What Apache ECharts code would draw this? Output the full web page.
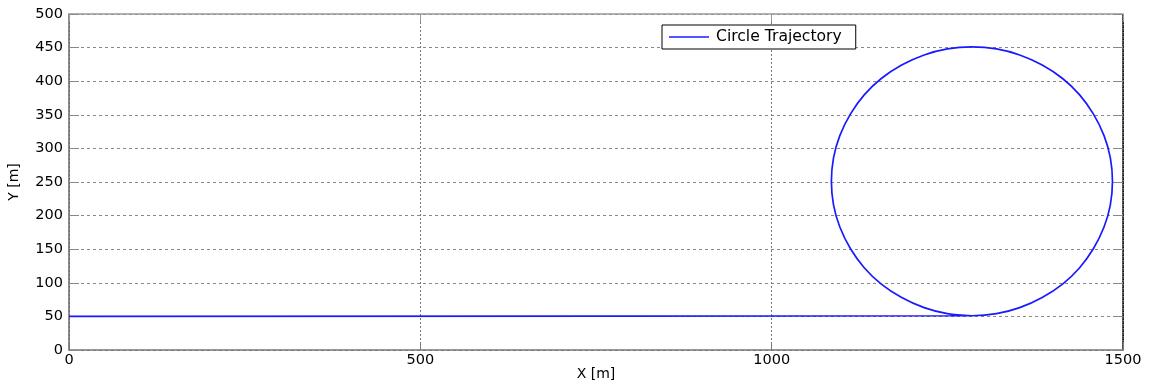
<!DOCTYPE html>
<html>
<head>
<meta charset="utf-8">
<script src="https://cdn.jsdelivr.net/npm/echarts@6/dist/echarts.min.js"></script>
<style>
  html, body { margin: 0; padding: 0; background: #fff; }
  #chart { width: 1150px; height: 385px; }
</style>
</head>
<body>
<div id="chart"></div>
<script>
// Straight approach leg at Y = 50 m
const approachX = [0, 1285];
const approachY = [50, 51];

// Loop around the circle, sampled every 10 degrees
const circleX = [1285, 1320, 1353, 1385, 1414, 1438, 1458, 1473, 1482, 1485,
                 1482, 1473, 1458, 1438, 1414, 1385, 1353, 1320, 1285, 1250,
                 1217, 1185, 1156, 1132, 1112, 1097, 1088, 1085, 1088, 1097,
                 1112, 1132, 1156, 1185, 1217, 1250, 1285];
const circleY = [51, 54, 63, 78, 98, 122, 151, 183, 216, 251,
                 286, 319, 351, 380, 404, 424, 439, 448, 451, 448,
                 439, 424, 404, 380, 351, 319, 286, 251, 216, 183,
                 151, 122, 98, 78, 63, 54, 51];

const xTicks = [0, 500, 1000, 1500];
const yTicks = [0, 50, 100, 150, 200, 250, 300, 350, 400, 450, 500];

const seriesName = 'Circle Trajectory';
const font = 'DejaVu Sans, sans-serif';

const trajectory = approachX.map((x, i) => [x, approachY[i]])
  .concat(circleX.map((x, i) => [x, circleY[i]]));

const chart = echarts.init(document.getElementById('chart'), null, { renderer: 'canvas' });

const plainNumber = v => String(v);

chart.setOption({
  animation: false,
  backgroundColor: '#ffffff',
  grid: { left: 69, right: 27, top: 14, bottom: 35, containLabel: false, outerBoundsMode: 'none' },
  legend: {
    data: [seriesName],
    left: 662, top: 25,
    padding: [4, 14, 4, 7],
    itemWidth: 40, itemHeight: 10, itemGap: 8,
    backgroundColor: '#ffffff',
    borderColor: '#000000', borderWidth: 1, borderRadius: 0,
    icon: 'path://M0,4.3 L40,4.3 L40,5.7 L0,5.7 Z',
    textStyle: { fontFamily: font, fontSize: 15.6, color: '#000', padding: [0, 0, 0, 2] }
  },
  xAxis: [{
    type: 'value', min: xTicks[0], max: xTicks[xTicks.length - 1], interval: 500,
    name: 'X [m]', nameLocation: 'middle', nameGap: 17, nameMoveOverlap: false,
    nameTextStyle: { fontFamily: font, fontSize: 14, color: '#000', verticalAlign: 'top' },
    axisLine: { show: true, onZero: false, lineStyle: { color: '#777', width: 1.5 } },
    axisTick: { show: true, inside: true, length: 8, lineStyle: { color: '#777' } },
    axisLabel: { fontFamily: font, fontSize: 14.5, color: '#000', margin: 3, formatter: plainNumber },
    splitLine: { show: true, lineStyle: { color: '#777', type: [2, 2], width: 1 } }
  }, {
    type: 'value', position: 'top', min: xTicks[0], max: xTicks[xTicks.length - 1], interval: 500,
    axisLine: { show: true, onZero: false, lineStyle: { color: '#999', width: 1.5 } },
    axisTick: { show: true, inside: true, length: 8, lineStyle: { color: '#999' } },
    axisLabel: { show: false }, splitLine: { show: false }
  }],
  yAxis: [{
    type: 'value', min: yTicks[0], max: yTicks[yTicks.length - 1], interval: 50,
    name: 'Y [m]', nameLocation: 'middle', nameGap: 48, nameRotate: 90, nameMoveOverlap: false,
    nameTextStyle: { fontFamily: font, fontSize: 14, color: '#000' },
    axisLine: { show: true, onZero: false, lineStyle: { color: '#666', width: 1.5 } },
    axisTick: { show: true, inside: true, length: 10, lineStyle: { color: '#888' } },
    axisLabel: { fontFamily: font, fontSize: 14.5, color: '#000', margin: 6, formatter: plainNumber },
    splitLine: { show: true, lineStyle: { color: '#888', type: [3, 3], width: 1 } }
  }, {
    type: 'value', position: 'right', min: yTicks[0], max: yTicks[yTicks.length - 1], interval: 50,
    axisLine: { show: true, onZero: false, lineStyle: { color: '#000', width: 1.5, type: [1, 1] } },
    axisTick: { show: true, inside: true, length: 10, lineStyle: { color: '#888' } },
    axisLabel: { show: false }, splitLine: { show: false }
  }],
  series: [{
    name: seriesName,
    type: 'line',
    data: trajectory,
    showSymbol: false,
    smooth: 0.35,
    lineStyle: { color: '#1a1aff', width: 1.7 },
    itemStyle: { color: '#1a1aff' }
  }]
});
</script>
</body>
</html>
